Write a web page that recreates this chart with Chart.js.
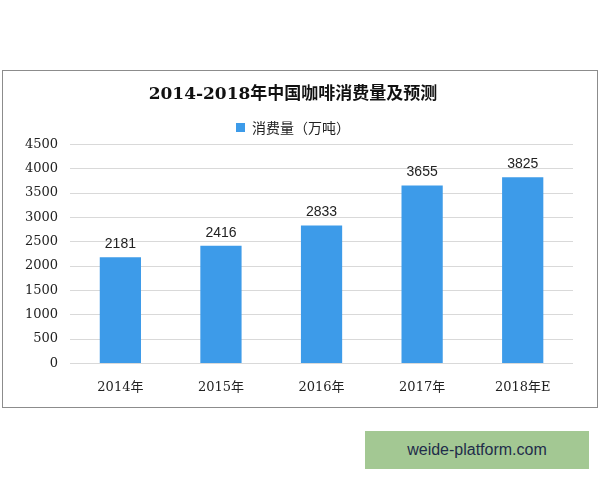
<!DOCTYPE html>
<html>
<head>
<meta charset="utf-8">
<script src="https://cdn.jsdelivr.net/npm/chart.js@4/dist/chart.umd.min.js"></script>
<style>
  html, body { margin: 0; padding: 0; background: #fff; }
  body { width: 600px; height: 480px; position: relative; overflow: hidden; }
  #frame { position: absolute; left: 2px; top: 70px; width: 594px; height: 336px; border: 1px solid #8c8c8c; }
  #badge { position: absolute; left: 365px; top: 431px; width: 224px; height: 38px; background: #a3c893;
           color: #1f2d4a; font: 16px "Liberation Sans", Arial, sans-serif; text-align: center; line-height: 38px; }
</style>
</head>
<body>
<div id="frame"><canvas id="chart" width="594" height="336"></canvas></div>
<div id="badge">weide-platform.com</div>
<script>
// Chart data
const categories = ['2014年', '2015年', '2016年', '2017年', '2018年E'];
const consumption = [2181, 2416, 2833, 3655, 3825];
const seriesName = '消费量（万吨）';
const chartTitle = '2014-2018年中国咖啡消费量及预测';

const serifFont = '"DejaVu Serif", "Noto Sans CJK SC", serif';
const barColor = '#3d9be9';

// Draw value labels above each bar
const valueLabels = {
    id: 'valueLabels',
    afterDatasetsDraw(chart) {
        const ctx = chart.ctx;
        const meta = chart.getDatasetMeta(0);
        ctx.save();
        ctx.font = '14px "Liberation Sans", Arial, sans-serif';
        ctx.fillStyle = '#222';
        ctx.textAlign = 'center';
        ctx.textBaseline = 'bottom';
        meta.data.forEach(function(bar, i) {
            ctx.fillText(String(consumption[i]), bar.x, bar.y - 6);
        });
        ctx.restore();
    }
};

new Chart(document.getElementById('chart'), {
    type: 'bar',
    data: {
        labels: categories,
        datasets: [{
            label: seriesName,
            data: consumption,
            backgroundColor: barColor,
            barPercentage: 0.41,
            categoryPercentage: 1
        }]
    },
    options: {
        responsive: false,
        animation: false,
        layout: { padding: { left: 10, right: 24, top: 6, bottom: 4 } },
        plugins: {
            title: {
                display: true,
                text: chartTitle,
                color: '#111',
                font: { family: serifFont, size: 17, weight: 'bold' },
                padding: { top: 7, bottom: 14 }
            },
            legend: {
                display: true,
                position: 'top',
                labels: {
                    boxWidth: 9,
                    boxHeight: 9,
                    color: '#222',
                    padding: 2,
                    font: { family: '"Noto Sans CJK SC", sans-serif', size: 14 }
                }
            },
            tooltip: { enabled: false }
        },
        scales: {
            x: {
                grid: { display: false },
                border: { display: false },
                ticks: { color: '#222', padding: 8, font: { family: serifFont, size: 13 } }
            },
            y: {
                min: 0,
                max: 4500,
                grid: { color: '#d9d9d9', drawTicks: false },
                border: { display: false },
                ticks: {
                    stepSize: 500,
                    color: '#222',
                    padding: 12,
                    font: { family: serifFont, size: 13 },
                    callback: function(v) { return String(v); }
                }
            }
        }
    },
    plugins: [valueLabels]
});
</script>
</body>
</html>
